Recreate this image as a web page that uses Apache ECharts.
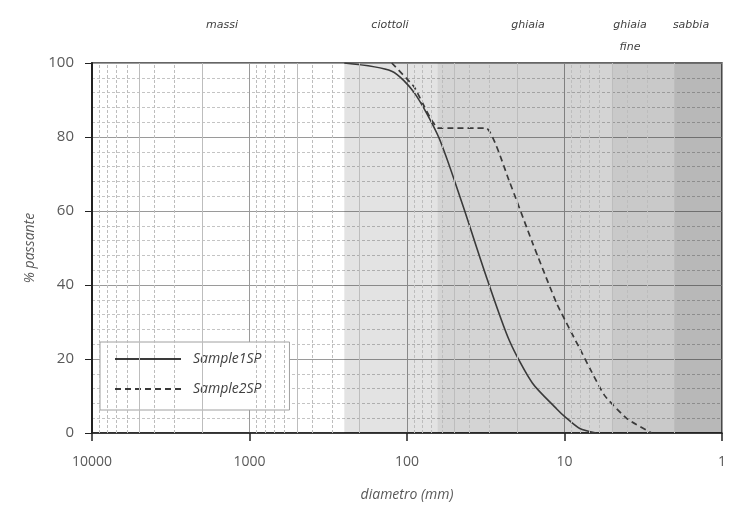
<!DOCTYPE html>
<html>
<head>
<meta charset="utf-8">
<script src="https://cdn.jsdelivr.net/npm/echarts@6/dist/echarts.min.js"></script>
<style>
  html, body { margin: 0; padding: 0; background: #fff; }
  #chart-container { width: 729px; height: 513px; }
</style>
</head>
<body>
<div id="chart-container"></div>
<script>
// grain size curves, diameter in mm vs % passing
const sample1 = [
  [250, 100], [125, 97.8], [90, 92], [63, 80], [45, 62.5], [31.5, 42.5],
  [22.4, 25], [16, 13.5], [11.2, 6.5], [10, 4.5], [8, 1.2], [6.3, 0]
];
const sample2 = [
  [125, 100], [90, 93.5], [63, 82.4], [31.5, 82.4], [22.4, 68], [16, 51.5],
  [11.2, 35], [8, 22.8], [5.6, 10.3], [4, 3.8], [2.8, 0]
];
const seriesNames = ['Sample1SP', 'Sample2SP'];

// soil classes (mm ranges) and their shading
const bandNames = ['ciottoli', 'ghiaia', 'ghiaia fine', 'sabbia'];
const bandRanges = [[250, 64], [64, 5], [5, 2], [2, 1]];
const bandAlpha = [0.11, 0.17, 0.21, 0.28];

const xTickLabels = [10000, 1000, 100, 10, 1];

// minor vertical grid lines 2..9 in every decade
const minorX = [];
[1, 10, 100, 1000].forEach(d => {
  for (let k = 2; k <= 9; k++) minorX.push(k * d);
});

const chartDom = document.getElementById('chart-container');
const myChart = echarts.init(chartDom, null, { renderer: 'canvas' });

const gridLineData = minorX.map(v => {
  const k = Math.round(v / Math.pow(10, Math.floor(Math.log10(v) + 1e-9)));
  return {
    xAxis: v,
    lineStyle: { color: '#bdbdbd', width: 1, type: (k === 5 || k === 2) ? 'solid' : [3, 2] }
  };
});

const bandData = bandRanges.map((r, i) => [
  { xAxis: r[0], itemStyle: { color: 'rgba(0,0,0,' + bandAlpha[i] + ')' } },
  { xAxis: r[1] }
]);

const labelFont = { fill: '#404040', font: 'italic 11px "DejaVu Sans"', textAlign: 'center', textVerticalAlign: 'middle' };
const topLabels = [
  { text: 'massi', x: 222, y: 25 },
  { text: 'ciottoli', x: 390, y: 25 },
  { text: 'ghiaia', x: 528, y: 25 },
  { text: 'ghiaia', x: 630, y: 25 },
  { text: 'fine', x: 630, y: 47 },
  { text: 'sabbia', x: 691, y: 25 }
];

const option = {
  animation: false,
  backgroundColor: '#fff',
  grid: {
    left: 92, right: 3, top: 63, bottom: 80,
    show: true, borderColor: '#333', borderWidth: 1.5, backgroundColor: 'transparent'
  },
  legend: {
    orient: 'vertical',
    left: 100, top: 342,
    data: seriesNames,
    backgroundColor: '#fff',
    borderColor: '#a0a0a0', borderWidth: 1,
    padding: [10, 28, 14, 14],
    itemWidth: 66, itemHeight: 12, itemGap: 16,
    itemStyle: { color: 'transparent', borderWidth: 0, opacity: 0 },
    textStyle: { fontFamily: 'Open Sans', fontStyle: 'italic', fontSize: 14, color: '#404040', padding: [0, 0, 0, 7] }
  },
  xAxis: {
    type: 'log',
    logBase: 10,
    min: 1, max: 10000,
    inverse: true,
    name: 'diametro (mm)',
    nameLocation: 'middle',
    nameGap: 55,
    nameTextStyle: { fontFamily: 'Open Sans', fontStyle: 'italic', fontSize: 14, color: '#595959' },
    axisLine: { show: true, onZero: false, lineStyle: { color: '#222', width: 1.5 } },
    axisTick: { show: true, length: 8, lineStyle: { color: '#222', width: 1.5 } },
    axisLabel: {
      margin: 22,
      fontFamily: 'Open Sans', fontSize: 14, color: '#595959',
      formatter: v => String(Math.round(v))
    },
    splitLine: { show: true, lineStyle: { color: '#9a9a9a', width: 1 } }
  },
  yAxis: {
    type: 'value',
    min: 0, max: 100, interval: 20,
    name: '% passante',
    nameLocation: 'middle',
    nameGap: 42,
    nameTextStyle: { fontFamily: 'Open Sans', fontStyle: 'italic', fontSize: 14, color: '#595959' },
    axisLine: { show: true, lineStyle: { color: '#222', width: 2 } },
    axisTick: { show: true, length: 7, lineStyle: { color: '#222' } },
    axisLabel: { margin: 18, fontFamily: 'Open Sans', fontSize: 15, color: '#595959' },
    splitLine: { show: true, lineStyle: { color: '#9a9a9a', width: 1 } },
    minorTick: { show: false, splitNumber: 5 },
    minorSplitLine: { show: true, lineStyle: { color: '#c4c4c4', width: 1, type: [3, 2] } }
  },
  series: [
    {
      name: 'grid', type: 'line', data: [], z: 1, silent: true,
      markLine: { silent: true, symbol: 'none', label: { show: false }, data: gridLineData }
    },
    {
      name: 'bands', type: 'line', data: [], z: 2, silent: true,
      markArea: { silent: true, label: { show: false }, data: bandData }
    },
    {
      name: seriesNames[0], type: 'line', data: sample1, z: 3,
      symbol: 'none', smooth: 0.25,
      lineStyle: { color: '#3a3a3a', width: 1.6, type: 'solid' },
      itemStyle: { color: '#3a3a3a' }
    },
    {
      name: seriesNames[1], type: 'line', data: sample2, z: 3,
      symbol: 'none', smooth: 0.15,
      lineStyle: { color: '#3a3a3a', width: 1.7, type: [6, 4] },
      itemStyle: { color: '#3a3a3a' }
    }
  ],
  graphic: topLabels.map(l => ({
    type: 'text', x: l.x, y: l.y, silent: true,
    style: Object.assign({ text: l.text }, labelFont)
  }))
};

myChart.setOption(option);
</script>
</body>
</html>
